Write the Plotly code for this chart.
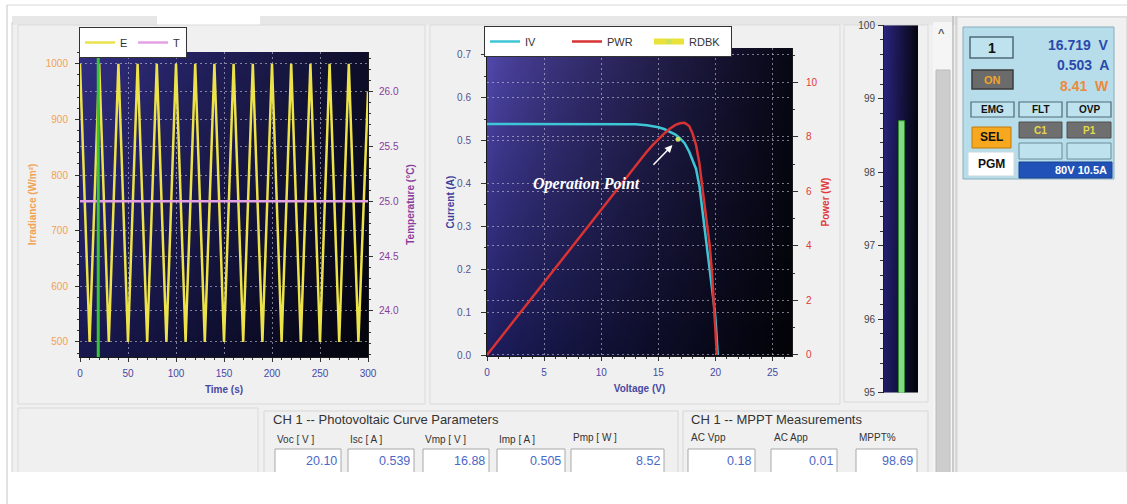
import base64
import struct
import zlib
import plotly.graph_objects as go

W, H = 1127, 504

# ---------------- data ----------------
time_s = [0, 10, 20, 30, 40, 50, 60, 70, 80, 90, 100, 110, 120, 130, 140, 150,
          160, 170, 180, 190, 200, 210, 220, 230, 240, 250, 260, 270, 280, 290, 300]
irradiance = [1000, 500, 1000, 500, 1000, 500, 1000, 500, 1000, 500, 1000, 500, 1000, 500, 1000, 500,
              1000, 500, 1000, 500, 1000, 500, 1000, 500, 1000, 500, 1000, 500, 1000, 500, 950]
temp_time = [0, 300]
temperature = [25.0, 25.0]
cursor_time = 19

iv_voltage = [0, 2, 4, 6, 8, 10, 12, 13, 14, 14.5, 15, 15.5, 16, 16.5, 16.9, 17.3, 17.7, 18.0,
              18.3, 18.6, 18.9, 19.2, 19.5, 19.7, 19.85, 19.95, 20.05, 20.2]
iv_current = [0.539, 0.539, 0.539, 0.539, 0.539, 0.539, 0.538, 0.538, 0.536, 0.534, 0.531, 0.527,
              0.521, 0.514, 0.505, 0.494, 0.474, 0.455, 0.434, 0.393, 0.330, 0.265, 0.203, 0.160,
              0.125, 0.100, 0.065, 0.0]
pwr_voltage = [0, 2, 4, 6, 8, 10, 12, 13, 14, 14.5, 15, 15.5, 16, 16.5, 16.9, 17.3, 17.7, 18.0,
               18.3, 18.6, 18.9, 19.2, 19.5, 19.7, 19.85, 19.95, 20.05, 20.12]
power = [0, 1.07, 2.14, 3.21, 4.28, 5.35, 6.42, 6.95, 7.46, 7.70, 7.92, 8.12, 8.30, 8.44, 8.50,
         8.52, 8.40, 8.12, 7.70, 7.02, 5.98, 5.00, 4.00, 3.00, 2.00, 1.35, 0.55, 0.0]
rdbk_voltage = [16.719]
rdbk_current = [0.503]
rdbk_power = 8.41
mppt_pct = 98.69

pv_labels = ["Voc [ V ]", "Isc [ A ]", "Vmp [ V ]", "Imp [ A ]", "Pmp [ W ]"]
pv_values = ["20.10", "0.539", "16.88", "0.505", "8.52"]
mppt_labels = ["AC Vpp", "AC App", "MPPT%"]
mppt_values = ["0.18", "0.01", "98.69"]

# axis ranges
t_range = [0, 300]
e_range = [473, 1021]
temp_range = [23.58, 26.36]
v_range = [0, 26.7]
i_range = [-0.0023, 0.716]
p_range = [-0.037, 11.26]
g_range = [95, 100]

FONT = "Liberation Sans"


# ---------------- helpers ----------------
def X(x):
    return x / W


def Y(y):
    return 1 - y / H


def png_uri(w, h, pix):
    raw = bytearray()
    for j in range(h):
        raw.append(0)
        for i in range(w):
            raw.extend(pix(i / (w - 1), j / (h - 1)))

    def chunk(t, d):
        return struct.pack('>I', len(d)) + t + d + struct.pack('>I', zlib.crc32(t + d) & 0xffffffff)

    data = (b'\x89PNG\r\n\x1a\n' + chunk(b'IHDR', struct.pack('>IIBBBBB', w, h, 8, 2, 0, 0, 0))
            + chunk(b'IDAT', zlib.compress(bytes(raw))) + chunk(b'IEND', b''))
    return 'data:image/png;base64,' + base64.b64encode(data).decode()


def lerp(a, b, t):
    return tuple(int(round(a[k] + (b[k] - a[k]) * t)) for k in range(3))


def grad(tl, bl, tr, br, p=1.0):
    def f(u, v):
        left = lerp(tl, bl, v)
        right = lerp(tr, br, v)
        return lerp(left, right, u ** p)
    return f


shapes = []
annotations = []


def rect(x0, y0, x1, y1, fill, line=None, lw=1):
    shapes.append(dict(type='rect', xref='paper', yref='paper', x0=X(x0), x1=X(x1), y0=Y(y1), y1=Y(y0),
                       fillcolor=fill, layer='below',
                       line=dict(color=line if line else 'rgba(0,0,0,0)', width=lw if line else 0)))


def seg(x0, y0, x1, y1, color, lw=1):
    shapes.append(dict(type='line', xref='paper', yref='paper', x0=X(x0), x1=X(x1), y0=Y(y0), y1=Y(y1),
                       line=dict(color=color, width=lw), layer='below'))


def label(x, y, s, size, color, anchor='left', bold=False, family=FONT):
    annotations.append(dict(xref='paper', yref='paper', x=X(x), y=Y(y), text=f'<b>{s}</b>' if bold else s,
                            showarrow=False, xanchor=anchor, yanchor='middle', borderpad=0,
                            font=dict(size=size, color=color, family=family)))


# ---------------- window frame ----------------
rect(12, 22, 1127, 472, '#f0f0f0')
seg(7, 5, 1127, 5, '#d8d8d8')
rect(12, 16, 1127, 25, '#e7e7e7')
rect(157, 14, 260, 25, '#ffffff')
seg(12, 22, 12, 472, '#d0d0d0')
rect(18, 25, 425, 404, '#f0f0f0', '#dadada')
rect(430, 25, 840, 404, '#f0f0f0', '#dadada')
rect(844, 25, 928, 402, '#f0f0f0', '#dadada')
rect(18, 408, 258, 480, '#f0f0f0', '#dadada')
rect(264, 411, 678, 480, '#f0f0f0', '#d6d6d6')
rect(683, 411, 928, 480, '#f0f0f0', '#d6d6d6')
# scrollbar
rect(933, 22, 952, 472, '#f5f5f5')
rect(936, 70, 950, 480, '#cdcdcd', '#bcbcbc')
label(941.5, 33, '^', 11, '#555555', 'center', True)
seg(953, 16, 953, 472, '#a6a6a6')
seg(956, 16, 956, 472, '#c2c2c2')
# right panel
rect(957, 17, 1127, 480, '#f0f0f0', '#d2d2d2')
rect(963, 27, 1114, 179, '#b6dde9', '#86aebb')

BOX = '#bfe3ee'
EDGE = '#4f6a78'
rect(970, 37, 1013, 58, BOX, EDGE, 1.5)
label(991.5, 47.5, '1', 14, '#111111', 'center', True)
label(1110, 44.5, '16.719  V', 14, '#2b49ac', 'right', True)
label(1110, 65.5, '0.503  A', 14, '#2b49ac', 'right', True)
label(1110, 86, '8.41  W', 14, '#ec8a3c', 'right', True)
rect(972, 70, 1013, 89, '#6b6b6b', '#3d3d3d', 1.5)
label(992.5, 79.5, 'ON', 11, '#f2a32a', 'center', True)
for (x0, x1, s) in [(971, 1014, 'EMG'), (1019, 1062, 'FLT'), (1067, 1111, 'OVP')]:
    rect(x0, 102, x1, 117, BOX, EDGE, 1.2)
    label((x0 + x1) / 2, 109.5, s, 10, '#111111', 'center', True)
rect(972, 127, 1011, 148, '#f7a81e', '#c07810')
label(991.5, 137.5, 'SEL', 12, '#111111', 'center', True)
for (x0, x1, s) in [(1019, 1062, 'C1'), (1067, 1111, 'P1')]:
    rect(x0, 122, x1, 138, '#6f6f6f', '#505050')
    label((x0 + x1) / 2, 130, s, 10, '#e6d84a', 'center', True)
    rect(x0, 143, x1, 159, BOX, '#6d8c99')
rect(968, 152, 1014, 176, '#ffffff', '#c8d8de')
label(991, 164, 'PGM', 12, '#111111', 'center', True)
rect(1019, 162, 1112, 178, '#2152b8', '#1a3f90')
label(1108, 170, '80V 10.5A', 11, '#ffffff', 'right', True)

# bottom parameter groups
label(272, 419.5, 'CH 1 -- Photovoltaic Curve Parameters', 13, '#333333')
pv_boxes = [(275, 341), (348, 414), (423, 489), (497, 565), (571, 664)]
for (x0, x1), lab, val in zip(pv_boxes, pv_labels, pv_values):
    label(x0 + 1, 439 if lab != 'Pmp [ W ]' else 437, lab, 10, '#333333')
    rect(x0, 449, x1, 476, '#ffffff', '#a8a8a8')
    label(x1 - 3, 460.5, val, 12.5, '#4a68c8', 'right')
label(690, 419, 'CH 1 -- MPPT Measurements', 13, '#333333')
mppt_boxes = [(688, 755), (771, 837), (856, 917)]
for (x0, x1), lab, val in zip(mppt_boxes, mppt_labels, mppt_values):
    label(x0 + 2, 437.5, lab, 10, '#333333')
    rect(x0, 449, x1, 476, '#ffffff', '#a8a8a8')
    label(x1 - 3, 460.5, val, 12.5, '#4a68c8', 'right')

# white strip below the window content, then the outer frame line
rect(8, 472, 1127, 504, '#ffffff')
seg(7, 5, 7, 504, '#c4c4c4')

# operation point callout
label(586.7, 183.5, '<b><i>Operation Point</i></b>', 16, '#ffffff', 'center', family='Liberation Serif')
annotations.append(dict(xref='x3', yref='y3', x=rdbk_voltage[0], y=rdbk_current[0], text='',
                        showarrow=True, ax=-26, ay=27, standoff=8, arrowcolor='#ffffff',
                        arrowwidth=1.5, arrowhead=2, arrowsize=1))

# ---------------- traces ----------------
fig = go.Figure()
fig.add_trace(go.Scatter(x=time_s, y=irradiance, name='E', mode='lines', xaxis='x', yaxis='y',
                         line=dict(color='#ece24a', width=2.5), legend='legend'))
fig.add_trace(go.Scatter(x=temp_time, y=temperature, name='T', mode='lines', xaxis='x', yaxis='y2',
                         line=dict(color='#e4a2e4', width=2.5), legend='legend'))
fig.add_trace(go.Scatter(x=iv_voltage, y=iv_current, name='IV', mode='lines', xaxis='x3', yaxis='y3',
                         line=dict(color='#3ec6d6', width=2.5), legend='legend2'))
fig.add_trace(go.Scatter(x=pwr_voltage, y=power, name='PWR', mode='lines', xaxis='x3', yaxis='y4',
                         line=dict(color='#d83232', width=2.5), legend='legend2'))
fig.add_trace(go.Scatter(x=rdbk_voltage, y=rdbk_current, name='RDBK', mode='lines+markers',
                         xaxis='x3', yaxis='y3', line=dict(color='#e8e23a', width=6),
                         marker=dict(color='#c8e060', size=5), legend='legend2'))
fig.add_trace(go.Bar(x=[0.52], y=[mppt_pct], width=0.18, xaxis='x5', yaxis='y5', showlegend=False,
                     marker=dict(color='#86d886', line=dict(color='#2f8f2f', width=1))))

# cursor line
shapes.append(dict(type='line', xref='x', yref='y domain', x0=cursor_time, x1=cursor_time, y0=0, y1=1,
                   line=dict(color='#38c438', width=3), layer='above'))

# gradient backgrounds
images = [
    dict(source=png_uri(48, 48, grad((50, 46, 130), (24, 24, 78), (14, 14, 42), (4, 4, 12))),
         xref='x', yref='y', x=t_range[0], y=e_range[1], sizex=t_range[1] - t_range[0],
         sizey=e_range[1] - e_range[0], sizing='stretch', xanchor='left', yanchor='top', layer='below'),
    dict(source=png_uri(48, 48, grad((82, 72, 172), (30, 30, 96), (8, 8, 22), (3, 3, 8), 0.75)),
         xref='x3', yref='y3', x=v_range[0], y=i_range[1], sizex=v_range[1] - v_range[0],
         sizey=i_range[1] - i_range[0], sizing='stretch', xanchor='left', yanchor='top', layer='below'),
    dict(source=png_uri(16, 16, grad((42, 36, 124), (30, 28, 100), (6, 6, 18), (4, 4, 12))),
         xref='x5', yref='y5', x=0, y=g_range[1], sizex=1, sizey=g_range[1] - g_range[0],
         sizing='stretch', xanchor='left', yanchor='top', layer='below'),
]

grid = dict(showgrid=True, gridcolor='rgba(215,215,232,0.55)', griddash='2px,3px', gridwidth=1.3,
            zeroline=False, automargin=False)
axis_common = dict(ticks='outside', tickcolor='#333333', showline=True, linecolor='#1a1a1a', linewidth=1)


def ttl(text, color, standoff):
    return dict(text=f'<b>{text}</b>', font=dict(size=10, color=color, family=FONT), standoff=standoff)


legend_common = dict(xanchor='left', yanchor='top', orientation='h', bgcolor='#ffffff',
                     bordercolor='#333333', borderwidth=1, entrywidthmode='pixels', itemwidth=30,
                     font=dict(size=11, color='#333333', family=FONT))

fig.update_layout(
    template='none',
    width=W, height=H, autosize=False,
    margin=dict(l=0, r=0, t=0, b=0, pad=0, autoexpand=False),
    paper_bgcolor='#ffffff', plot_bgcolor='#101030',
    font=dict(family=FONT, size=10, color='#333333'),
    shapes=shapes, annotations=annotations, images=images,
    bargap=0,
    xaxis=dict(domain=[X(80), X(368)], range=t_range, anchor='y', dtick=50, tick0=0, ticklen=4,
               ticklabelstandoff=3, tickfont=dict(size=10, color='#4848a2'),
               title=ttl('Time (s)', '#4848a2', 7),
               minor=dict(ticks='outside', ticklen=2, dtick=10, tickcolor='#333333', showgrid=False),
               **axis_common, **grid),
    yaxis=dict(domain=[Y(357), Y(52)], range=e_range, anchor='x', dtick=100, tick0=0, ticklen=4,
               ticklabelstandoff=5, tickfont=dict(size=10, color='#f2a252'),
               title=ttl('Irradiance (W/m²)', '#f2a252', 7),
               minor=dict(ticks='outside', ticklen=2, dtick=20, tickcolor='#333333', showgrid=False),
               **axis_common, **grid),
    yaxis2=dict(overlaying='y', side='right', anchor='x', range=temp_range, dtick=0.5, tick0=0,
                tickformat='.1f', ticklen=4, ticklabelstandoff=4,
                tickfont=dict(size=10, color='#8a3c9c'),
                title=ttl('Temperature (°C)', '#8a3c9c', 9),
                minor=dict(ticks='outside', ticklen=2, dtick=0.1, tickcolor='#333333', showgrid=False),
                **axis_common, **grid),
    xaxis3=dict(domain=[X(487), X(792)], range=v_range, anchor='y3', dtick=5, tick0=0, ticklen=4,
                ticklabelstandoff=3, tickfont=dict(size=10, color='#4848a2'),
                title=ttl('Voltage (V)', '#4848a2', 7),
                minor=dict(ticks='outside', ticklen=2, dtick=1, tickcolor='#333333', showgrid=False),
                **axis_common, **grid),
    yaxis3=dict(domain=[Y(356), Y(48)], range=i_range, anchor='x3', dtick=0.1, tick0=0, tickformat='.1f',
                ticklen=5, ticklabelstandoff=8, tickfont=dict(size=10, color='#55558e'),
                title=ttl('Current (A)', '#40409a', 0),
                minor=dict(ticks='outside', ticklen=2, dtick=0.05, tickcolor='#333333', showgrid=False),
                **axis_common, **grid),
    yaxis4=dict(overlaying='y3', side='right', anchor='x3', range=p_range, dtick=2, tick0=0,
                ticklen=5, ticklabelstandoff=6, tickfont=dict(size=10, color='#e03a3a'),
                title=ttl('Power (W)', '#e03a3a', 5),
                minor=dict(ticks='outside', ticklen=2, dtick=1, tickcolor='#333333', showgrid=False),
                **axis_common, **grid),
    xaxis5=dict(domain=[X(884), X(918)], range=[0, 1], anchor='y5', visible=False, automargin=False),
    yaxis5=dict(domain=[Y(392.7), Y(25.2)], range=g_range, anchor='x5', dtick=1, tick0=0, ticklen=5,
                ticklabelstandoff=1, tickfont=dict(size=10, color='#444444'), showgrid=False,
                zeroline=False, automargin=False,
                minor=dict(ticks='outside', ticklen=3, dtick=0.2, tickcolor='#333333', showgrid=False),
                ticks='outside', tickcolor='#333333', showline=True, linecolor='#1a1a1a'),
    legend=dict(x=X(79), y=Y(27), entrywidth=8, **legend_common),
    legend2=dict(x=X(484), y=Y(26), entrywidth=37, **legend_common),
)

fig.write_html("out.html", config={'displayModeBar': False},
               post_script="document.body.style.margin='0px';document.body.style.overflow='hidden';")
